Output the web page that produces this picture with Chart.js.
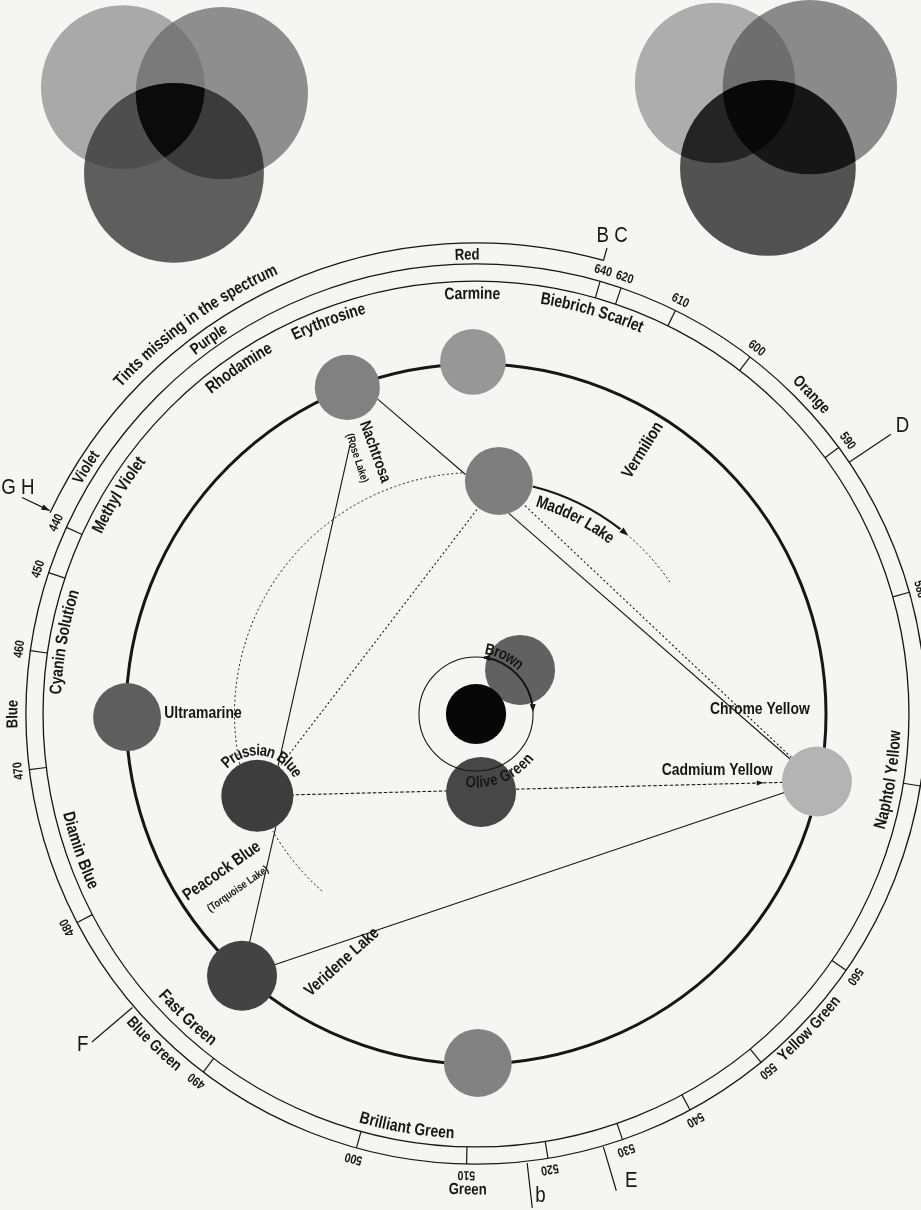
<!DOCTYPE html>
<html lang="en">
<head>
<meta charset="utf-8">
<title>Colour circle of pigments</title>
<script src="https://cdn.jsdelivr.net/npm/chart.js@4.4.1/dist/chart.umd.min.js"></script>
<style>
  html, body { margin: 0; padding: 0; background: #f4f4f2; }
  .chart-box { width: 921px; height: 1210px; }
</style>
</head>
<body>
<div class="chart-box"><canvas id="wheelChart"></canvas></div>
<script>
// 颜料圆盘：角度（正上方起顺时针，度），到中心的距离（黑色圆 = 1）
const pigments = ['Carmine', 'Erythrosine', 'Madder Lake', 'Brown', 'Olive Green', 'Cadmium Yellow', 'Ultramarine', 'Prussian Blue', 'Peacock Blue', 'Brilliant Green', 'Black'];
const pigmentAngle = [359.5, 338.5, 5.6, 45, 176.3, 101.2, 269.5, 249.5, 221.8, 179.7, 0];
const pigmentDist = [1.006, 1.003, 0.669, 0.178, 0.223, 0.993, 0.997, 0.667, 1.003, 0.997, 0];

// 光谱刻度 (nm) 与角度
const waveLengths = [640, 620, 610, 600, 590, 580, 570, 560, 550, 540, 530, 520, 510, 500, 490, 480, 470, 460, 450, 440];
const waveAngle = [16, 18.8, 26.3, 37.5, 53.7, 74.3, 99.2, 124.7, 140.7, 151.6, 161, 170.8, 181.2, 195.4, 217.3, 242.4, 262.9, 278.1, 288.3, 294.5];

// 夫琅和费谱线
const fraunhofer = ['B C', 'D', 'E', 'b', 'F', 'G H'];
const fraunhoferAngle = [15.7, 56, 163.6, 173.5, 229.5, 295.5];

// 光谱颜色名称
const spectrumNames = ['Red', 'Orange', 'Yellow Green', 'Green', 'Blue Green', 'Blue', 'Violet', 'Purple'];
const spectrumAngle = [358.9, 46.4, 133.4, 181, 224.3, 270, 302.3, 324.5];

// 染料名称（内圈）
const dyeNames = ['Carmine', 'Biebrich Scarlet', 'Erythrosine', 'Rhodamine', 'Methyl Violet', 'Cyanin Solution', 'Diamin Blue', 'Fast Green', 'Brilliant Green', 'Naphtol Yellow'];
const dyeAngle = [359.5, 16.1, 339.4, 325.6, 301.5, 279.9, 251, 223.5, 189.5, 99.1];

// 颜料之间的连线 (rim = 圆盘边缘方位角)
const links = [
    { from: 'Erythrosine', to: 'Madder Lake', fromRim: 111, toRim: 281 },
    { from: 'Madder Lake', to: 'Cadmium Yellow', fromRim: 163, toRim: 310 },
    { from: 'Madder Lake', to: 'Cadmium Yellow', dash: [2, 2.5] },
    { from: 'Cadmium Yellow', to: 'Peacock Blue' },
    { from: 'Peacock Blue', to: 'Prussian Blue', toRim: 149 },
    { from: 'Madder Lake', to: 'Prussian Blue', dash: [2, 2.5] },
    { from: 'Prussian Blue', to: 'Cadmium Yellow', dash: [3.5, 2] },
    { fromPoint: [-0.36, 0.769], to: 'Prussian Blue', toRim: 35 }
];

// 样式
const FONT = "'Liberation Sans', Arial, 'DejaVu Sans', sans-serif";
const NARROW = 0.82;
const INK = '#161616';
const PAPER = '#f5f5f3';
const diskShade = ['#979797', '#818181', '#7e7e7e', '#616161', '#474747', '#b4b4b4', '#5e5e5e', '#3d3d3d', '#434343', '#828282', '#070707'];
const diskSize = [0.094, 0.093, 0.097, 0.1, 0.1, 0.1, 0.097, 0.103, 0.1, 0.097, 0.086];
const RING = { inner: 1.237, mid: 1.286, outer: 1.346 };

const vennSets = [
    { circles: [[-1.009, 1.791, 0.234], [-0.726, 1.774, 0.246], [-0.863, 1.546, 0.257]],
      fill: ['#a9a9a9', '#8e8e8e', '#5e5e5e'], pair: ['#7a7a7a', '#4e4e4e', '#3b3b3b'], triple: '#0b0b0b' },
    { circles: [[0.683, 1.803, 0.229], [0.954, 1.791, 0.249], [0.834, 1.56, 0.251]],
      fill: ['#adadad', '#8a8a8a', '#525252'], pair: ['#6e6e6e', '#242424', '#161616'], triple: '#080808' }
];

const freeLabels = [
    { text: 'Nachtrosa', x: -0.289, y: 0.749, rot: 70, size: 16 },
    { text: '(Rose Lake)', x: -0.340, y: 0.731, rot: 72, size: 11 },
    { text: 'Vermilion', x: 0.477, y: 0.754, rot: -58, size: 17 },
    { text: 'Chrome Yellow', x: 0.811, y: 0.014, rot: 0, size: 17 },
    { text: 'Cadmium Yellow', x: 0.689, y: -0.160, rot: 0, size: 17 },
    { text: 'Ultramarine', x: -0.780, y: 0.003, rot: 0, size: 17 },
    { text: 'Peacock Blue', x: -0.726, y: -0.449, rot: -35, size: 17 },
    { text: '(Torquoise Lake)', x: -0.680, y: -0.500, rot: -35, size: 11 },
    { text: 'Veridene Lake', x: -0.383, y: -0.709, rot: -42, size: 17 }
];

const fraunhoferStyle = [
    { r1: 1.346, r2: 1.383, la: 15.9, lr: 1.42 },
    { r1: 1.286, r2: 1.43, la: 56, lr: 1.47 },
    { r1: 1.289, r2: 1.42, la: 161.6, lr: 1.406 },
    { r1: 1.291, r2: 1.42, la: 172.4, lr: 1.39 },
    { r1: 1.291, r2: 1.443, la: 229.9, lr: 1.469 },
    { r1: 1.437, r2: 1.35, la: 296.3, lr: 1.46, arrow: true }
];
const spectrumDist = [1.311, 1.323, 1.314, 1.36, 1.32, 1.323, 1.317, 1.314];

function rad(d) { return d * Math.PI / 180; }

function polar(angle, dist) {
    return { x: dist * Math.sin(rad(angle)), y: dist * Math.cos(rad(angle)) };
}

function pigmentPoint(name, rim) {
    const i = pigments.indexOf(name);
    const p = polar(pigmentAngle[i], pigmentDist[i]);
    if (rim === undefined) return p;
    const o = polar(rim, diskSize[i]);
    return { x: p.x + o.x, y: p.y + o.y };
}

function geom(chart) {
    const xs = chart.scales.x, ys = chart.scales.y;
    const cx = xs.getPixelForValue(0), cy = ys.getPixelForValue(0);
    const unit = xs.getPixelForValue(1) - cx;
    return {
        cx, cy, unit,
        at(angle, dist) { return { x: cx + dist * unit * Math.sin(rad(angle)), y: cy - dist * unit * Math.cos(rad(angle)) }; },
        xy(x, y) { return { x: xs.getPixelForValue(x), y: ys.getPixelForValue(y) }; }
    };
}

function isOutward(theta) {
    const t = ((theta % 360) + 360) % 360;
    return t >= 270 || t <= 90;
}

// 窄体字：横向压缩
function arcText(ctx, text, cx, cy, r, theta, outward, squeeze) {
    const k = squeeze || NARROW;
    const total = ctx.measureText(text).width * k;
    const dir = outward ? 1 : -1;
    let a = rad(theta) - dir * total / r / 2;
    for (const ch of text) {
        const w = ctx.measureText(ch).width * k;
        const mid = a + dir * w / r / 2;
        ctx.save();
        ctx.translate(cx + r * Math.sin(mid), cy - r * Math.cos(mid));
        ctx.rotate(outward ? mid : mid - Math.PI);
        ctx.scale(k, 1);
        ctx.fillText(ch, 0, 0);
        ctx.restore();
        a += dir * w / r;
    }
}

function rotText(ctx, text, x, y, rot, squeeze) {
    ctx.save();
    ctx.translate(x, y);
    ctx.rotate(rad(rot));
    ctx.scale(squeeze || NARROW, 1);
    ctx.fillText(text, 0, 0);
    ctx.restore();
}

function segment(ctx, p, q) {
    ctx.beginPath();
    ctx.moveTo(p.x, p.y);
    ctx.lineTo(q.x, q.y);
    ctx.stroke();
}

function ringArc(ctx, g, dist, a1, a2, cx, cy) {
    ctx.beginPath();
    ctx.arc(cx === undefined ? g.cx : cx, cy === undefined ? g.cy : cy, dist * g.unit, rad(a1 - 90), rad(a2 - 90));
    ctx.stroke();
}

function arrowHead(ctx, x, y, dx, dy, len, wid) {
    const n = Math.hypot(dx, dy);
    dx /= n; dy /= n;
    const bx = x - dx * len, by = y - dy * len;
    ctx.beginPath();
    ctx.moveTo(x, y);
    ctx.lineTo(bx - dy * wid, by + dx * wid);
    ctx.lineTo(bx + dy * wid, by - dx * wid);
    ctx.closePath();
    ctx.fill();
}

function drawVenn(ctx, g, set) {
    const c = set.circles.map(k => { const p = g.xy(k[0], k[1]); return { x: p.x, y: p.y, r: k[2] * g.unit }; });
    const path = k => { ctx.beginPath(); ctx.arc(c[k].x, c[k].y, c[k].r, 0, Math.PI * 2); };
    [0, 1, 2].forEach(k => { path(k); ctx.fillStyle = set.fill[k]; ctx.fill(); });
    [[0, 1], [0, 2], [1, 2]].forEach((p, j) => {
        ctx.save(); path(p[0]); ctx.clip(); path(p[1]); ctx.fillStyle = set.pair[j]; ctx.fill(); ctx.restore();
    });
    ctx.save(); path(0); ctx.clip(); path(1); ctx.clip(); path(2); ctx.fillStyle = set.triple; ctx.fill(); ctx.restore();
}

// 背景
const paperPlugin = {
    id: 'paper',
    beforeDraw(chart) {
        const ctx = chart.ctx;
        ctx.save();
        ctx.fillStyle = PAPER;
        ctx.fillRect(0, 0, chart.width, chart.height);
        ctx.restore();
    }
};

// 色环、刻度与名称
const wheelPlugin = {
    id: 'wheel',
    beforeDatasetsDraw(chart) {
        const ctx = chart.ctx;
        const g = geom(chart);
        ctx.save();
        ctx.filter = 'blur(0.6px)';
        vennSets.forEach(s => drawVenn(ctx, g, s));
        ctx.filter = 'none';

        ctx.strokeStyle = INK;
        ctx.fillStyle = INK;
        ctx.lineWidth = 3;
        ringArc(ctx, g, 1, 0, 360);

        ctx.lineWidth = 1.3;
        ringArc(ctx, g, RING.inner, 0, 360);
        ringArc(ctx, g, RING.mid, 0, 360);
        ringArc(ctx, g, RING.outer, 295.3, 375.7);

        ctx.lineWidth = 1.2;
        waveAngle.forEach(a => segment(ctx, g.at(a, RING.inner), g.at(a, RING.mid)));

        // 夫琅和费谱线
        ctx.textAlign = 'center';
        ctx.textBaseline = 'middle';
        ctx.font = `22px ${FONT}`;
        fraunhofer.forEach((name, i) => {
            const s = fraunhoferStyle[i];
            const a = fraunhoferAngle[i];
            const p = g.at(a, s.r1), q = g.at(a, s.r2);
            segment(ctx, p, q);
            if (s.arrow) arrowHead(ctx, q.x, q.y, q.x - p.x, q.y - p.y, 8, 3);
            const l = g.at(s.la, s.lr);
            rotText(ctx, name, l.x, l.y, 0, 0.85);
        });

        // 波长数字
        ctx.font = `bold 13px ${FONT}`;
        waveLengths.forEach((w, i) => {
            const p = g.at(waveAngle[i], 1.317);
            rotText(ctx, String(w), p.x, p.y, waveAngle[i]);
        });

        // 光谱颜色
        ctx.font = `bold 16px ${FONT}`;
        spectrumNames.forEach((n, i) => {
            arcText(ctx, n, g.cx, g.cy, spectrumDist[i] * g.unit, spectrumAngle[i], isOutward(spectrumAngle[i]));
        });
        ctx.font = `bold 17px ${FONT}`;
        arcText(ctx, 'Tints missing in the spectrum', g.cx, g.cy, 1.392 * g.unit, 324.2, true);

        // 染料
        ctx.font = `bold 17px ${FONT}`;
        dyeNames.forEach((n, i) => {
            arcText(ctx, n, g.cx, g.cy, 1.2 * g.unit, dyeAngle[i], isOutward(dyeAngle[i]));
        });

        // 虚线弧
        ctx.lineWidth = 1;
        ctx.setLineDash([2, 2.5]);
        ringArc(ctx, g, 0.69, 258, 357);
        ringArc(ctx, g, 0.67, 221, 240);
        ringArc(ctx, g, 0.67, 41, 56);
        ctx.setLineDash([]);
        ctx.restore();
    }
};

// 中心小圆、箭头与标注
const overlayPlugin = {
    id: 'overlay',
    afterDatasetsDraw(chart) {
        const ctx = chart.ctx;
        const g = geom(chart);
        ctx.save();
        ctx.strokeStyle = INK;
        ctx.fillStyle = INK;

        ctx.lineWidth = 1.1;
        ringArc(ctx, g, 0.163, 0, 360);
        ctx.lineWidth = 2;
        ringArc(ctx, g, 0.163, 8, 84);
        let p = g.at(6, 0.163);
        arrowHead(ctx, p.x, p.y, -Math.cos(rad(6)), -Math.sin(rad(6)), 8, 3);
        p = g.at(88, 0.163);
        arrowHead(ctx, p.x, p.y, Math.cos(rad(88)), Math.sin(rad(88)), 8, 3);

        // Madder Lake 箭头弧
        ctx.lineWidth = 2.2;
        ringArc(ctx, g, 0.67, 14, 38);
        p = g.at(40.5, 0.67);
        arrowHead(ctx, p.x, p.y, Math.cos(rad(40.5)), Math.sin(rad(40.5)), 9, 3.2);

        // Prussian Blue -> Cadmium Yellow 箭头
        const a = g.xy(pigmentPoint('Prussian Blue').x, pigmentPoint('Prussian Blue').y);
        const b = g.xy(pigmentPoint('Cadmium Yellow').x, pigmentPoint('Cadmium Yellow').y);
        arrowHead(ctx, a.x + (b.x - a.x) * 0.905, a.y + (b.y - a.y) * 0.905, b.x - a.x, b.y - a.y, 7, 2.5);

        ctx.textAlign = 'center';
        ctx.textBaseline = 'middle';
        ctx.font = `bold 16px ${FONT}`;
        arcText(ctx, 'Brown', g.cx, g.cy, 0.186 * g.unit, 26, true);
        arcText(ctx, 'Olive Green', g.cx, g.cy, 0.197 * g.unit, 158, false);

        const pb = g.xy(pigmentPoint('Prussian Blue').x, pigmentPoint('Prussian Blue').y);
        arcText(ctx, 'Prussian Blue', pb.x, pb.y, 0.128 * g.unit, 8, true);

        ctx.font = `bold 17px ${FONT}`;
        arcText(ctx, 'Madder Lake', g.cx, g.cy, 0.63 * g.unit, 27, true);

        freeLabels.forEach(l => {
            ctx.font = `bold ${l.size}px ${FONT}`;
            const q = g.xy(l.x, l.y);
            rotText(ctx, l.text, q.x, q.y, l.rot);
        });
        ctx.restore();
    }
};

const linkDatasets = links.map(l => ({
    type: 'scatter',
    showLine: true,
    data: [l.fromPoint ? { x: l.fromPoint[0], y: l.fromPoint[1] } : pigmentPoint(l.from, l.fromRim), pigmentPoint(l.to, l.toRim)],
    borderColor: INK,
    borderWidth: 1.1,
    borderDash: l.dash || [],
    pointRadius: 0,
    fill: false,
    order: 2
}));

const ctx = document.getElementById('wheelChart').getContext('2d');
const chart = new Chart(ctx, {
    type: 'scatter',
    data: {
        datasets: [{
            label: 'pigments',
            data: pigments.map((n, i) => polar(pigmentAngle[i], pigmentDist[i])),
            pointRadius: c => {
                const s = c.chart.scales.x;
                return diskSize[c.dataIndex] * (s.getPixelForValue(1) - s.getPixelForValue(0));
            },
            pointBackgroundColor: diskShade,
            pointBorderWidth: 0,
            pointBorderColor: 'rgba(0,0,0,0)',
            order: 1
        }, ...linkDatasets]
    },
    options: {
        responsive: true,
        maintainAspectRatio: false,
        animation: false,
        events: [],
        layout: { padding: 0 },
        scales: {
            x: { type: 'linear', min: -1.36, max: 1.2714, display: false },
            y: { type: 'linear', min: -1.4171, max: 2.04, display: false }
        },
        plugins: {
            legend: { display: false },
            tooltip: { enabled: false }
        }
    },
    plugins: [paperPlugin, wheelPlugin, overlayPlugin]
});
</script>
</body>
</html>
